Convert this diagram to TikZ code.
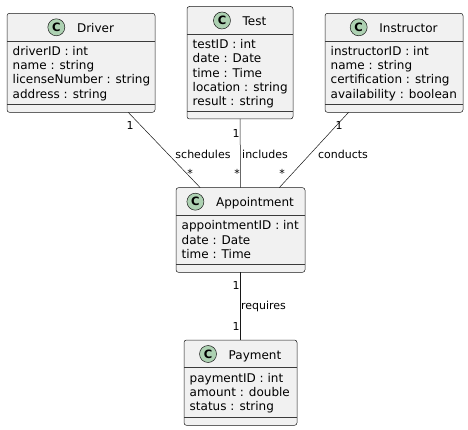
\documentclass[tikz,border=0pt]{standalone}
\usepackage{fontspec}
\setmainfont{DejaVu Sans}
\usetikzlibrary{calc}
\definecolor{boxfill}{HTML}{F1F1F1}
\definecolor{boxline}{HTML}{181818}
\definecolor{circfill}{HTML}{ADD1B2}
\tikzset{
 classbox/.style={draw=boxline, fill=boxfill, line width=0.5pt, rounded corners=2.5pt, inner sep=0pt, outer sep=0pt},
 sepline/.style={draw=boxline!85, line width=0.45pt},
 titletext/.style={inner sep=0pt, font=\fontsize{12}{14}\selectfont},
 attrtext/.style={inner sep=0pt, font=\fontsize{12}{14}\selectfont},
 stereo/.style={circle, draw=boxline, fill=circfill, line width=0.5pt, minimum size=17pt, inner sep=0pt, font=\fontsize{11.5}{12}\selectfont\bfseries},
 conn/.style={draw=boxline, line width=0.5pt},
 lbl/.style={inner sep=0pt, font=\fontsize{11}{13}\selectfont, anchor=base},
}
\newcommand\umlclass[7]{%
  \node[classbox, minimum width={(#3-#2)*1pt}, minimum height={(#5-#4)*1pt}] (#1) at ({(#2+#3)/2},{(#4+#5)/2}) {};
  \draw[sepline] ({#2},{#4+27.5}) -- ({#3},{#4+27.5});
  \draw[sepline] ({#2},{#5-8}) -- ({#3},{#5-8});
  \node[titletext, anchor=base] (#1-title) at ({(#2+#3)/2+14.5},{#4+19}) {#6};
  \node[stereo] (#1-icon) at ([shift={(-20.5,-5)}]#1-title.base west) {C};
  \foreach \t [count=\i] in {#7} {
    \node[attrtext, anchor=base west] (#1-a\i) at ({#2+5.5},{#4+42+(\i-1)*14.3}) {\t};
  }
}
\begin{document}
\begin{tikzpicture}[x=1pt,y=-1pt]
\fill[white] (0,0) rectangle (468,430);
\useasboundingbox (0,0) rectangle (468,430);
\umlclass{driver}{7}{155}{13.3}{112.3}{Driver}{driverID : int, name : string, licenseNumber : string, address : string}
\umlclass{test}{187}{293}{6.5}{119}{Test}{testID : int, date : Date, time : Time, location : string, result : string}
\umlclass{instr}{325}{463}{13.3}{112.3}{Instructor}{instructorID : int, name : string, certification : string, availability : boolean}
\umlclass{appt}{176}{305}{187.7}{272.3}{Appointment}{appointmentID : int, date : Date, time : Time}
\umlclass{pay}{184}{297}{340}{425.3}{Payment}{paymentID : int, amount : double, status : string}
\draw[conn] (driver) -- (appt);
\draw[conn] (test) -- (appt);
\draw[conn] (instr) -- (appt);
\draw[conn] (appt) -- (pay);
\node[lbl] (m1) at (130,130) {1};
\node[lbl] (l1) at (203,158.5) {schedules};
\node[lbl] (m2) at (190,178) {*};
\node[lbl] (m3) at (236,138) {1};
\node[lbl] (l2) at (265,158.5) {includes};
\node[lbl] (m4) at (237,178) {*};
\node[lbl] (m5) at (339,130) {1};
\node[lbl] (l3) at (343,158.5) {conducts};
\node[lbl] (m6) at (282,178) {*};
\node[lbl] (m7) at (236,289) {1};
\node[lbl] (l4) at (263.5,309) {requires};
\node[lbl] (m8) at (236,330) {1};
\end{tikzpicture}
\end{document}
